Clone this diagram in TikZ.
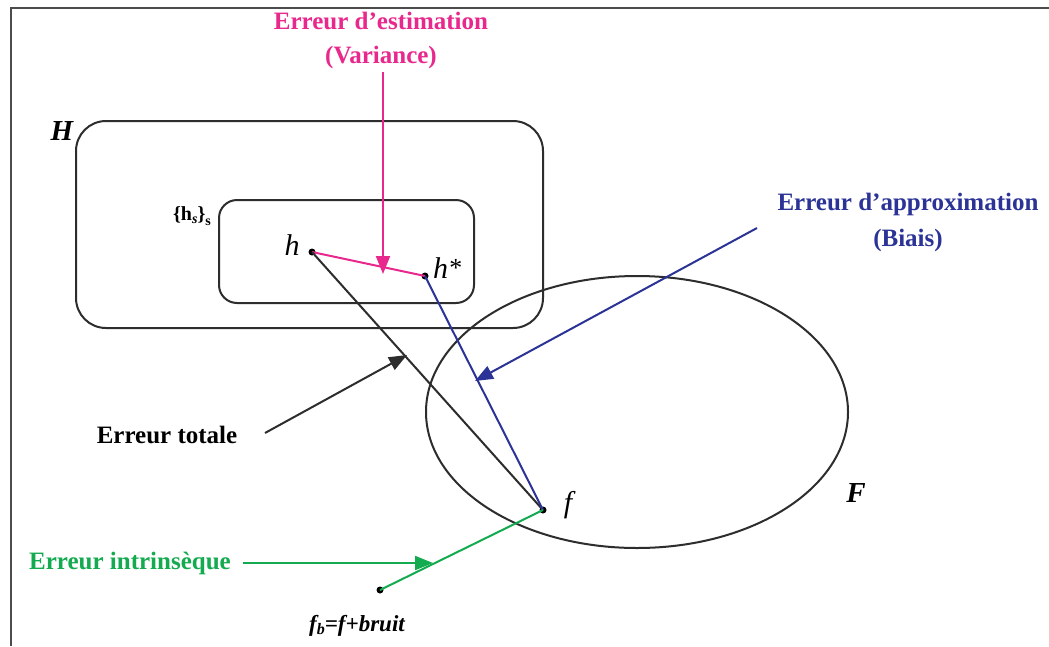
\documentclass[tikz,border=0pt]{standalone}
\usepackage{fontspec}
\setmainfont{Liberation Serif}
\usetikzlibrary{arrows.meta}
\definecolor{pinkc}{RGB}{232,40,140}
\definecolor{bluec}{RGB}{43,52,150}
\definecolor{greenc}{RGB}{20,170,80}
\definecolor{linec}{RGB}{45,45,45}
\tikzset{
  lbl/.style={font=\fontsize{25}{28}\selectfont\bfseries, inner sep=0pt},
  conn/.style={line width=2pt},
  arr/.style={conn, -{Triangle[length=18pt,width=14pt]}},
  dotpt/.style={fill=black, circle, inner sep=0pt, minimum size=7pt},
  math/.style={font=\fontsize{30}{32}\selectfont\itshape, inner sep=0pt},
  setbox/.style={draw=linec, line width=2pt},
}
\begin{document}
\begin{tikzpicture}[x=1pt,y=-1pt]
\useasboundingbox (0,0) rectangle (1049,646);
\fill[white] (0,0) rectangle (1049,646);
% frame
\draw[line width=2.5pt, gray!60!black] (11,646) -- (11,8) -- (1049,8);
% sets
\draw[setbox, rounded corners=30pt] (76,121) rectangle (543,328);
\draw[setbox, rounded corners=18pt] (219,200) rectangle (474,303);
\draw[setbox] (637,412) ellipse [x radius=211, y radius=136];
\node[font=\fontsize{29}{32}\selectfont\bfseries\itshape, inner sep=0pt] (Hl) at (62,131) {H};
\node[font=\fontsize{29}{32}\selectfont\bfseries\itshape, inner sep=0pt] (Fl) at (856,493) {F};
\node[font=\fontsize{20}{22}\selectfont\bfseries, inner sep=0pt] (hsl) at (192,216) {\{h\raisebox{-3pt}{\fontsize{14}{16}\selectfont\itshape s}\}\raisebox{-5pt}{\fontsize{14}{16}\selectfont s}};
% points
\node[dotpt] (h) at (312,252) {};
\node[dotpt] (hs) at (425,276) {};
\node[dotpt] (f) at (543,510) {};
\node[dotpt] (fb) at (380,590) {};
\node[math] (hl) at (292,245) {h};
\node[math, anchor=west] (hsl2) at (433,268) {h\raisebox{2pt}{\fontsize{26}{28}\selectfont *}};
\node[math] (fl) at (568,505) {f};
\node[font=\fontsize{23}{26}\selectfont\bfseries\itshape, inner sep=0pt] (fbl) at (357,626) {f\raisebox{-3pt}{\fontsize{16}{18}\selectfont b}=f+bruit};
% connectors
\draw[conn, pinkc] (h.center) -- (hs.center);
\draw[conn, linec] (h.center) -- (f.center);
\draw[conn, bluec] (hs.center) -- (f.center);
\draw[conn, greenc] (f.center) -- (fb.center);
% labels
\node[lbl, text=pinkc] (est1) at (381,21) {Erreur d’estimation};
\node[lbl, text=pinkc] (est2) at (381,57) {(Variance)};
\node[lbl, text=bluec] (app1) at (908,204) {Erreur d’approximation};
\node[lbl, text=bluec] (app2) at (908,240) {(Biais)};
\node[lbl, text=black] (tot) at (167,435) {Erreur totale};
\node[lbl, text=greenc] (intr) at (130,563) {Erreur intrinsèque};
% arrows
\coordinate (estA) at (383,72);
\coordinate (estB) at (383,274);
\coordinate (appA) at (757,228);
\coordinate (appB) at (475,381);
\coordinate (totA) at (265,433);
\coordinate (totB) at (407,355);
\coordinate (intA) at (243,563);
\coordinate (intB) at (433,563);
\draw[arr, pinkc] (estA) -- (estB);
\draw[arr, bluec] (appA) -- (appB);
\draw[arr, linec] (totA) -- (totB);
\draw[arr, greenc] (intA) -- (intB);
\end{tikzpicture}
\end{document}
